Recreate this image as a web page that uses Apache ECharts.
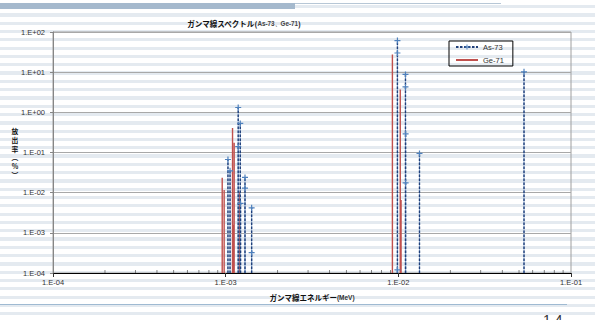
<!DOCTYPE html>
<html><head><meta charset="utf-8">
<script src="https://cdn.jsdelivr.net/npm/echarts@6/dist/echarts.min.js"></script>
<style>
html,body{margin:0;padding:0;}
body{width:595px;height:320px;overflow:hidden;background:repeating-linear-gradient(to bottom,#ffffff 0px,#ffffff 5px,#e4eaf0 5px,#e4eaf0 8.3px);}
#c{width:595px;height:320px;}
</style></head><body><div id="c"></div>
<script>
const xTickLabels = ['1.E-04','1.E-03','1.E-02','1.E-01'];
const yTickLabels = ['1.E-04','1.E-03','1.E-02','1.E-01','1.E+00','1.E+01','1.E+02'];
const as73Energy = [0.001031, 0.001060, 0.001182, 0.001182, 0.001215, 0.001220, 0.001294, 0.001294, 0.001414, 0.001414, 0.00988, 0.00988, 0.00988, 0.01100, 0.01100, 0.01102, 0.01102, 0.01326, 0.05344];
const as73Yield  = [0.067, 0.035, 1.32, 0.14, 0.53, 0.0054, 0.024, 0.013, 0.0042, 0.00032, 61, 30, 0.00012, 8.8, 4.3, 0.29, 0.0176, 0.095, 10.2];
const ge71Energy = [0.000955, 0.000980, 0.001096, 0.001106, 0.001120, 0.001198, 0.00924, 0.01026, 0.01037];
const ge71Yield  = [0.0235, 0.0116, 0.41, 0.0016, 0.174, 0.0105, 27.5, 3.7, 0.0066];
const yAxisTitleChars = ['放', '出', '率', '︵', '%', '︶'];
const axisFloor = 1e-4;
const minorTickValues = [];
for (let d = -4; d < -1; d++) for (let k = 2; k <= 9; k++) minorTickValues.push([k * Math.pow(10, d), axisFloor]);

function dropLines(energies, yields) {
  const d = [];
  energies.forEach((e, i) => {
    d.push({ value: [e, axisFloor], symbol: 'none' });
    d.push({ value: [e, yields[i]] });
    d.push([e, '-']);
  });
  return d;
}
const expIdx = v => Math.round(Math.log10(v)) + 4;
const plus = 'path://M4,0h2v4h4v2h-4v4h-2v-4h-4v-2h4z';
const cjk = '"Noto Sans CJK JP", sans-serif';
const lat = '"Liberation Sans", Arial, sans-serif';

const yTitle = yAxisTitleChars.map((ch, i) => ({
  type: 'text', x: 15, y: 131 + i * 8.8, silent: true,
  style: { text: ch, align: 'center', verticalAlign: 'middle', lineHeight: 7, fontFamily: cjk, fontWeight: 'bold', fontSize: 6.8, fill: '#111' }
}));

const chart = echarts.init(document.getElementById('c'), null, { renderer: 'svg' });
chart.setOption({
  animation: false,
  backgroundColor: 'transparent',
  grid: { left: 53, right: 24, top: 32, bottom: 47, show: true, borderColor: '#a0a0a0', borderWidth: 1 },
  legend: {
    data: [{ name: 'As-73' }, { name: 'Ge-71', itemStyle: { opacity: 0 } }],
    orient: 'vertical', left: 449, top: 41,
    padding: [2, 9, 2, 6], itemGap: 5, itemWidth: 22, itemHeight: 6,
    borderColor: '#000', borderWidth: 1, borderRadius: 0,
    textStyle: { fontFamily: lat, fontSize: 7.5, color: '#333' }
  },
  xAxis: {
    type: 'log', logBase: 10, min: 1e-4, max: 1e-1,
    axisLine: { show: true, lineStyle: { color: '#000', width: 1 } },
    axisTick: { show: true, length: 4, inside: false, lineStyle: { color: '#333' } },
    axisLabel: { margin: 5, fontFamily: lat, fontSize: 7.5, color: '#333', formatter: v => xTickLabels[expIdx(v)] },
    splitLine: { show: false },
    name: '{a|ガンマ線エネルギー}{b|(MeV)}', nameLocation: 'middle', nameGap: 21,
    nameTextStyle: { rich: {
      a: { fontFamily: cjk, fontWeight: 'bold', fontSize: 7.5, color: '#111' },
      b: { fontFamily: lat, fontWeight: 'bold', fontSize: 6.5, color: '#333' } } }
  },
  yAxis: {
    type: 'log', logBase: 10, min: 1e-4, max: 100, splitNumber: 6,
    axisLine: { show: true, lineStyle: { color: '#868686', width: 1 } },
    axisTick: { show: true, length: 3, lineStyle: { color: '#868686' } },
    axisLabel: { margin: 8, fontFamily: lat, fontSize: 7.5, color: '#333', formatter: v => yTickLabels[expIdx(v)] },
    splitLine: { show: true, lineStyle: { color: '#a8a8a8', width: 1 } }
  },
  series: [
    { type: 'scatter', silent: true, data: minorTickValues, symbol: 'rect', symbolSize: [0.8, 3], symbolOffset: [0, -1.5],
      itemStyle: { color: '#444' }, z: 1 },
    { name: 'Ge-71', type: 'line', data: dropLines(ge71Energy, ge71Yield), showSymbol: false, symbol: 'none',
      connectNulls: false, lineStyle: { color: '#C0504D', width: 1.4 }, itemStyle: { color: '#C0504D' }, z: 3 },
    { type: 'line', silent: true, data: dropLines(as73Energy, as73Yield), symbol: 'none',
      connectNulls: false, lineStyle: { color: '#7d9fcc', width: 0.8 }, z: 3 },
    { name: 'As-73', type: 'line', data: dropLines(as73Energy, as73Yield), symbol: plus, symbolSize: 6, showAllSymbol: true,
      connectNulls: false, lineStyle: { color: '#1F3F7A', width: 1.4, type: [2.5, 1.5] },
      itemStyle: { color: '#4F81BD' }, z: 4 }
  ],
  graphic: [
    { type: 'rect', shape: { x: 0, y: 3, width: 295, height: 6 }, style: { fill: '#a5b9cd' }, silent: true },
    { type: 'rect', shape: { x: 295, y: 3, width: 206, height: 1 }, style: { fill: '#b7c7d6' }, silent: true },
    { type: 'rect', shape: { x: 0, y: 304, width: 567, height: 1 }, style: { fill: '#9fbad2' }, silent: true },
    { type: 'text', x: 543, y: 313, style: { text: '1 4', fontFamily: lat, fontSize: 14, fill: '#333' }, silent: true },
    ...yTitle,
    { type: 'text', x: 244, y: 23, silent: true, style: {
        text: '{a|ガンマ線スペクトル}{p|(}{b|As-73、Ge-71}{p|)}', align: 'center', verticalAlign: 'middle',
        rich: {
          a: { fontFamily: cjk, fontWeight: 'bold', fontSize: 7.5, fill: '#111' },
          p: { fontFamily: cjk, fontWeight: 'bold', fontSize: 7.5, fill: '#111' },
          b: { fontFamily: lat, fontWeight: 'bold', fontSize: 6.3, fill: '#444' } } } }
  ]
});
</script></body></html>
